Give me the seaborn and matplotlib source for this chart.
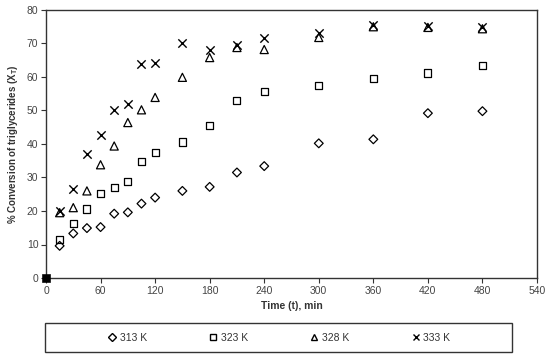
import matplotlib
matplotlib.use("Agg")
import matplotlib.pyplot as plt
from matplotlib.patches import Rectangle
from matplotlib.lines import Line2D
import seaborn as sns
import pandas as pd

sns.set_theme(style="ticks")
plt.rcParams['font.family'] = ['Liberation Sans', 'DejaVu Sans']

time_min = [15, 30, 45, 60, 75, 90, 105, 120, 150, 180, 210, 240, 300, 360, 420, 480]
conv_313 = [9.6, 13.3, 14.9, 15.2, 19.2, 19.6, 22.2, 24.0, 26.0, 27.2, 31.5, 33.4, 40.2, 41.4, 49.2, 49.8]
conv_323 = [11.5, 16.3, 20.6, 25.2, 27.1, 28.8, 34.9, 37.4, 40.6, 45.4, 53.0, 55.8, 57.4, 59.6, 61.2, 63.5]
conv_328 = [19.5, 21.0, 26.0, 33.8, 39.4, 46.4, 50.2, 53.9, 59.9, 65.8, 68.8, 68.2, 71.8, 75.0, 74.8, 74.4]
conv_333 = [20.0, 26.6, 36.9, 42.7, 50.0, 51.9, 64.0, 64.3, 70.0, 68.0, 69.6, 71.6, 73.0, 75.4, 75.2, 74.8]
series_labels = ["313 K", "323 K", "328 K", "333 K"]
start_time = [0]
start_conv = [0]

x_ticks = [0, 60, 120, 180, 240, 300, 360, 420, 480, 540]
y_ticks = [0, 10, 20, 30, 40, 50, 60, 70, 80]

frames = []
for lab, vals in zip(series_labels, [conv_313, conv_323, conv_328, conv_333]):
    frames.append(pd.DataFrame({"t": time_min, "X": vals, "series": lab}))
df = pd.concat(frames, ignore_index=True)

fig = plt.figure(figsize=(5.5, 3.59), dpi=100)
ax = fig.add_axes([46/550, 1-278/359, (537-46)/550, (278-10)/359])

styles = {
    "313 K": dict(marker="D", s=20),
    "323 K": dict(marker="s", s=26),
    "328 K": dict(marker="^", s=34),
    "333 K": dict(marker="x", s=36),
}
for lab in series_labels:
    sub = df[df["series"] == lab]
    st = styles[lab]
    if st["marker"] == "x":
        sns.scatterplot(data=sub, x="t", y="X", marker="x", s=st["s"], color="black",
                        linewidth=1.0, ax=ax, clip_on=False, zorder=3)
    else:
        sns.scatterplot(data=sub, x="t", y="X", marker=st["marker"], s=st["s"],
                        facecolor="none", edgecolor="black", linewidth=0.9, ax=ax,
                        clip_on=False, zorder=3)

sns.scatterplot(x=start_time, y=start_conv, marker="s", s=30, color="black",
                edgecolor="black", ax=ax, clip_on=False, zorder=4)

ax.set_xlim(0, 540)
ax.set_ylim(0, 80)
ax.set_xticks(x_ticks)
ax.set_yticks(y_ticks)
ax.tick_params(axis="both", direction="out", length=3.5, width=0.8, labelsize=7.5,
               colors="#333333", labelcolor="#444444", pad=2)
for sp in ax.spines.values():
    sp.set_visible(True)
    sp.set_color("#333333")
    sp.set_linewidth(1.0)
ax.set_xlabel("Time (t), min", fontsize=7.5, fontweight="bold", color="#333333", labelpad=4)
ax.set_ylabel("% Conversion of triglycerides (X$_\\mathregular{T}$)", fontsize=7,
              fontweight="bold", color="#333333", labelpad=5)

handles = [
    Line2D([], [], marker="D", markersize=4, markerfacecolor="none", markeredgecolor="black", linestyle="none"),
    Line2D([], [], marker="s", markersize=5, markerfacecolor="none", markeredgecolor="black", linestyle="none"),
    Line2D([], [], marker="^", markersize=5, markerfacecolor="none", markeredgecolor="black", linestyle="none"),
    Line2D([], [], marker="x", markersize=5, color="black", linestyle="none"),
]
fig.legend(handles, series_labels, loc="center", bbox_to_anchor=(279/550, 1-338/359),
           ncol=4, frameon=False, fontsize=7.5, handlelength=0.8, handletextpad=0.3,
           columnspacing=6.0, labelcolor="#333333")
fig.patches.append(Rectangle((45/550, 1-352/359), (512-45)/550, (352-323)/359,
                             transform=fig.transFigure, fill=False, edgecolor="#333333",
                             linewidth=1.0))

fig.savefig("out.png", dpi=100)
